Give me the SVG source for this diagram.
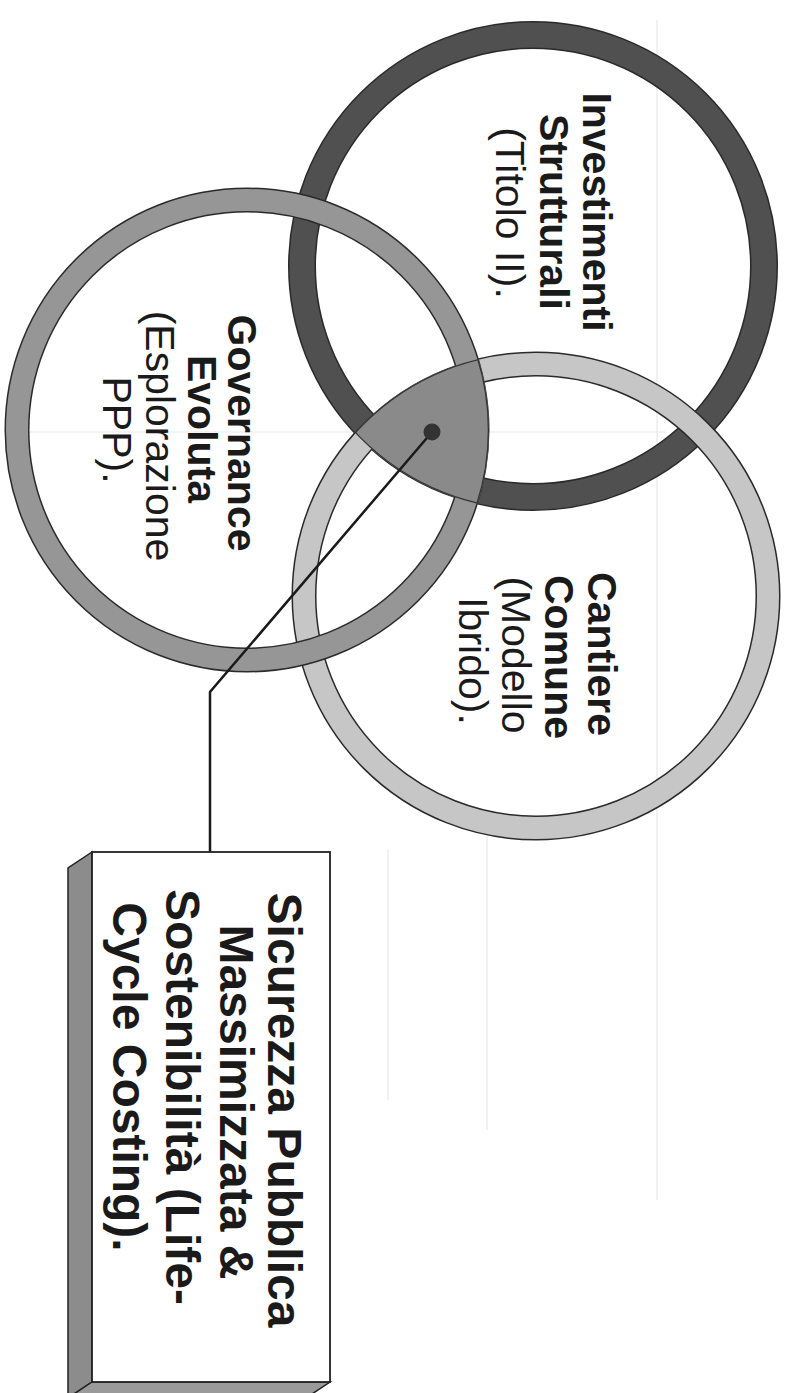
<svg xmlns="http://www.w3.org/2000/svg" width="789" height="1393" viewBox="0 0 789 1393">
  <style>
    .lbl { font-family: "Liberation Sans", Arial, sans-serif; font-size: 41px; fill: #1a1a1a; text-anchor: middle; }
    .b { font-weight: bold; }
    .box { font-family: "Liberation Sans", Arial, sans-serif; font-size: 48px; font-weight: bold; fill: #1a1a1a; text-anchor: middle; }
    .ringo { fill: none; stroke: #2a2a2a; }
    .grid { stroke: #e8e8e8; stroke-width: 1.2; fill: none; }
    .edge { fill: none; stroke: #333; stroke-width: 2.5; }
  </style>
  <defs>
    <clipPath id="cD"><circle cx="533" cy="266" r="244"/></clipPath>
    <clipPath id="cL"><circle cx="536" cy="596" r="244"/></clipPath>
    <clipPath id="cM"><circle cx="247" cy="430" r="242"/></clipPath>
  </defs>
  <rect width="789" height="1393" fill="#ffffff"/>

  <g id="background-grid">
    <line class="grid" x1="30" y1="432" x2="665" y2="432"/>
    <line class="grid" x1="657" y1="20" x2="657" y2="1200"/>
    <line class="grid" x1="388" y1="850" x2="388" y2="1100"/>
    <line class="grid" x1="487" y1="820" x2="487" y2="1130"/>
  </g>

  <g id="node-investimenti">
    <circle class="ringo" cx="533" cy="266" r="231" stroke-width="28"/>
    <circle cx="533" cy="266" r="231" fill="none" stroke="#505050" stroke-width="25"/>
  </g>
  <g id="node-cantiere">
    <circle class="ringo" cx="536" cy="596" r="232" stroke-width="25"/>
    <circle cx="536" cy="596" r="232" fill="none" stroke="#c6c6c6" stroke-width="22"/>
  </g>
  <g id="node-governance">
    <circle class="ringo" cx="247" cy="430" r="230" stroke-width="25"/>
    <circle cx="247" cy="430" r="230" fill="none" stroke="#969696" stroke-width="22"/>
  </g>

  <g id="node-intersection">
    <g clip-path="url(#cD)">
      <g clip-path="url(#cL)">
        <g clip-path="url(#cM)">
          <rect x="300" y="300" width="250" height="250" fill="#8a8a8a"/>
          <circle class="edge" cx="533" cy="266" r="244"/>
          <circle class="edge" cx="536" cy="596" r="244"/>
          <circle class="edge" cx="247" cy="430" r="242"/>
        </g>
      </g>
    </g>
  </g>

  <g id="labels-circles">
    <text class="lbl b" transform="rotate(90)" x="212" y="-583">Investimenti</text>
    <text class="lbl b" transform="rotate(90)" x="212" y="-540">Strutturali</text>
    <text class="lbl" transform="rotate(90)" x="213" y="-496">(Titolo II).</text>

    <text class="lbl b" transform="rotate(90)" x="433" y="-228">Governance</text>
    <text class="lbl b" transform="rotate(90)" x="429" y="-188">Evoluta</text>
    <text class="lbl" transform="rotate(90)" x="436" y="-146">(Esplorazione</text>
    <text class="lbl" transform="rotate(90)" x="430" y="-103">PPP).</text>

    <text class="lbl b" transform="rotate(90)" x="654" y="-588">Cantiere</text>
    <text class="lbl b" transform="rotate(90)" x="657" y="-545">Comune</text>
    <text class="lbl" transform="rotate(90)" x="655" y="-502">(Modello</text>
    <text class="lbl" transform="rotate(90)" x="661" y="-459">Ibrido).</text>
  </g>

  <g id="connectors">
    <polyline points="432,432 210,692 210,852" fill="none" stroke="#1a1a1a" stroke-width="2.5" stroke-linejoin="miter"/>
    <circle cx="432" cy="432" r="8.5" fill="#333333"/>
  </g>

  <g id="node-result">
    <polygon points="92,852 68,868 68,1398 92,1382" fill="#8c8c8c" stroke="#222" stroke-width="1.5"/>
    <polygon points="92,1382 330,1382 306,1398 68,1398" fill="#9a9a9a" stroke="#222" stroke-width="1.5"/>
    <rect x="92" y="852" width="238" height="530" fill="#ffffff" stroke="#222" stroke-width="1.8"/>
    <text class="box" transform="rotate(90)" x="1110" y="-268">Sicurezza Pubblica</text>
    <text class="box" transform="rotate(90)" x="1102" y="-220">Massimizzata &amp;</text>
    <text class="box" transform="rotate(90)" x="1097" y="-166">Sostenibilità (Life-</text>
    <text class="box" transform="rotate(90)" x="1077" y="-113">Cycle Costing).</text>
  </g>
</svg>
